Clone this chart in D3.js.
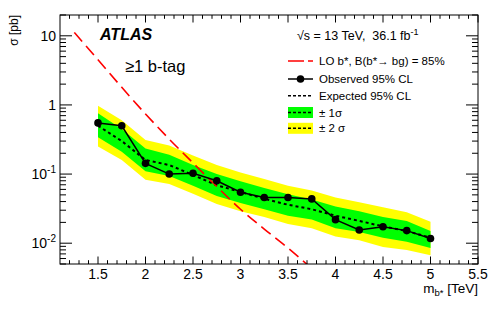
<!DOCTYPE html>
<html><head><meta charset="utf-8">
<script src="https://cdn.jsdelivr.net/npm/d3@7"></script>
<style>body{margin:0;background:#fff}text{font-family:"Liberation Sans",Arial,sans-serif}</style>
</head><body><svg id="c" width="498" height="311"></svg>
<script>
// ---- data ----
const mass      = [1.5, 1.75, 2.0, 2.25, 2.5, 2.75, 3.0, 3.25, 3.5, 3.75, 4.0, 4.25, 4.5, 4.75, 5.0];
const observed  = [0.55, 0.50, 0.143, 0.100, 0.103, 0.080, 0.0546, 0.0457, 0.0457, 0.0437, 0.0219, 0.0155, 0.0173, 0.0152, 0.0117];
const expected  = [0.50, 0.30, 0.160, 0.135, 0.097, 0.069, 0.055, 0.044, 0.036, 0.031, 0.025, 0.021, 0.0175, 0.015, 0.012];
const sigma1Up  = [0.76, 0.45, 0.235, 0.190, 0.135, 0.100, 0.079, 0.063, 0.051, 0.043, 0.034, 0.029, 0.024, 0.021, 0.0150];
const sigma1Dn  = [0.34, 0.21, 0.110, 0.094, 0.068, 0.048, 0.038, 0.031, 0.025, 0.022, 0.0165, 0.0145, 0.0120, 0.0105, 0.0085];
const sigma2Up  = [0.97, 0.60, 0.310, 0.260, 0.185, 0.135, 0.105, 0.085, 0.068, 0.058, 0.046, 0.039, 0.033, 0.028, 0.0205];
const sigma2Dn  = [0.25, 0.16, 0.083, 0.072, 0.052, 0.037, 0.029, 0.024, 0.019, 0.0165, 0.0125, 0.0110, 0.0088, 0.0080, 0.0067];
const theoryMass = [1.25, 1.5, 1.75, 2.0, 2.25, 2.5, 2.75, 3.0, 3.25, 3.5, 3.75];
const theoryXsec = [11.2, 4.5, 1.8, 0.74, 0.32, 0.145, 0.066, 0.031, 0.016, 0.0085, 0.0043];
const xTicks = [1.5, 2, 2.5, 3, 3.5, 4, 4.5, 5, 5.5];
const xTickLabels = ["1.5", "2", "2.5", "3", "3.5", "4", "4.5", "5", "5.5"];
const yTicks = [0.01, 0.1, 1, 10];
const yTickBase = ["10", "10", "1", "10"];
const yTickExp  = ["-2", "-1", "", ""];
const legendLabels = ["LO b*, B(b*\u2192 bg) = 85%", "Observed 95% CL", "Expected 95% CL", "\u00b1 1\u03c3", "\u00b1 2 \u03c3"];

// ---- layout ----
const L = 60, R = 478, T = 15, B = 264;
const svg = d3.select("#c");
const x = d3.scaleLinear().domain([1.1, 5.5]).range([L, R]);
const y = d3.scaleLog().domain([0.005, 20]).range([B, T]);

svg.append("defs").append("clipPath").attr("id", "clip")
  .append("rect").attr("x", L).attr("y", T).attr("width", R - L).attr("height", B - T);
const plot = svg.append("g").attr("clip-path", "url(#clip)");

const pts = mass.map((m, i) => ({m, obs: observed[i], exp: expected[i], u1: sigma1Up[i], d1: sigma1Dn[i], u2: sigma2Up[i], d2: sigma2Dn[i]}));

plot.append("path").datum(pts).attr("fill", "#ffff00")
  .attr("d", d3.area().x(d => x(d.m)).y0(d => y(d.d2)).y1(d => y(d.u2)));
plot.append("path").datum(pts).attr("fill", "#00ff00")
  .attr("d", d3.area().x(d => x(d.m)).y0(d => y(d.d1)).y1(d => y(d.u1)));
plot.append("path").datum(pts).attr("fill", "none").attr("stroke", "#000")
  .attr("stroke-width", 2).attr("stroke-dasharray", "3,3")
  .attr("d", d3.line().x(d => x(d.m)).y(d => y(d.exp)));

const th = theoryMass.map((m, i) => ({m, v: theoryXsec[i]}));
plot.append("path").datum(th).attr("fill", "none").attr("stroke", "#ff0000")
  .attr("stroke-width", 1.6).attr("stroke-dasharray", "12,6")
  .attr("d", d3.line().curve(d3.curveMonotoneX).x(d => x(d.m)).y(d => y(d.v)));

plot.append("path").datum(pts).attr("fill", "none").attr("stroke", "#000")
  .attr("stroke-width", 1.5)
  .attr("d", d3.line().x(d => x(d.m)).y(d => y(d.obs)));
plot.selectAll("circle.obs").data(pts).enter().append("circle")
  .attr("cx", d => x(d.m)).attr("cy", d => y(d.obs)).attr("r", 3.8).attr("fill", "#000");

// ---- frame and ticks ----
const ax = svg.append("g").attr("stroke", "#000").attr("stroke-width", 1);
ax.append("rect").attr("x", L).attr("y", T).attr("width", R - L).attr("height", B - T).attr("fill", "none");
const xMinor = d3.range(12, 56).map(v => v / 10);
xMinor.forEach(v => {
  const major = Math.abs(v * 2 - Math.round(v * 2)) < 1e-6;
  const len = major ? 7.5 : 3.8;
  ax.append("line").attr("x1", x(v)).attr("x2", x(v)).attr("y1", B).attr("y2", B - len);
  ax.append("line").attr("x1", x(v)).attr("x2", x(v)).attr("y1", T).attr("y2", T + len);
});
for (let d = -3; d <= 1; d++) {
  for (let k = 1; k <= 9; k++) {
    const v = k * Math.pow(10, d);
    if (v < 0.005 - 1e-12 || v > 20 + 1e-9) continue;
    const len = k === 1 ? 12 : 6;
    ax.append("line").attr("x1", L).attr("x2", L + len).attr("y1", y(v)).attr("y2", y(v));
    ax.append("line").attr("x1", R).attr("x2", R - len).attr("y1", y(v)).attr("y2", y(v));
  }
}

// tick labels
xTicks.forEach((v, i) => {
  svg.append("text").attr("x", x(v)).attr("y", 279).attr("text-anchor", "middle")
    .attr("font-size", 14).text(xTickLabels[i]);
});
yTicks.forEach((v, i) => {
  const t = svg.append("text").attr("x", 56).attr("y", y(v) + 5).attr("text-anchor", "end").attr("font-size", 14);
  t.append("tspan").text(yTickBase[i]);
  if (yTickExp[i]) t.append("tspan").attr("font-size", 10).attr("dy", -6).text(yTickExp[i]);
});

// axis titles
const xt = svg.append("text").attr("x", R).attr("y", 293).attr("text-anchor", "end").attr("font-size", 13.5);
xt.append("tspan").text("m");
xt.append("tspan").attr("font-size", 9.5).attr("dy", 3).text("b*");
xt.append("tspan").attr("dy", -3).text(" [TeV]");
svg.append("text").attr("transform", "translate(18,15) rotate(-90)").attr("text-anchor", "end")
  .attr("font-size", 12).text("\u03c3 [pb]");

// labels
svg.append("text").attr("x", 100).attr("y", 40).attr("font-size", 16).attr("font-weight", "bold")
  .attr("font-style", "italic").text("ATLAS");
svg.append("text").attr("x", 125).attr("y", 72).attr("font-size", 16.5).text("\u22651 b-tag");
const hd = svg.append("text").attr("x", 297).attr("y", 40).attr("font-size", 12.5).attr("xml:space", "preserve");
hd.append("tspan").text("\u221as = 13 TeV,  36.1 fb");
hd.append("tspan").attr("font-size", 9).attr("dy", -5).text("-1");

// legend
const lx0 = 288, lx1 = 313, tx = 319;
const rowY = [61, 79, 95.7, 112.5, 128.3];
const lg = svg.append("g");
lg.append("line").attr("x1", lx0).attr("x2", lx1).attr("y1", rowY[0]).attr("y2", rowY[0])
  .attr("stroke", "#ff0000").attr("stroke-width", 1.6).attr("stroke-dasharray", "16,4");
lg.append("line").attr("x1", lx0).attr("x2", lx1).attr("y1", rowY[1]).attr("y2", rowY[1])
  .attr("stroke", "#000").attr("stroke-width", 1.5);
lg.append("circle").attr("cx", (lx0 + lx1) / 2).attr("cy", rowY[1]).attr("r", 3.8).attr("fill", "#000");
lg.append("line").attr("x1", lx0).attr("x2", lx1).attr("y1", rowY[2]).attr("y2", rowY[2])
  .attr("stroke", "#000").attr("stroke-width", 1.5).attr("stroke-dasharray", "3,2");
[["#00ff00", rowY[3]], ["#ffff00", rowY[4]]].forEach(([c, cy]) => {
  lg.append("rect").attr("x", lx0).attr("y", cy - 5.5).attr("width", lx1 - lx0).attr("height", 11).attr("fill", c);
  lg.append("line").attr("x1", lx0).attr("x2", lx1).attr("y1", cy).attr("y2", cy)
    .attr("stroke", "#000").attr("stroke-width", 1.5).attr("stroke-dasharray", "3,2");
});
legendLabels.forEach((s, i) => {
  lg.append("text").attr("x", tx).attr("y", rowY[i] + 4).attr("font-size", 11.5).text(s);
});
</script></body></html>
